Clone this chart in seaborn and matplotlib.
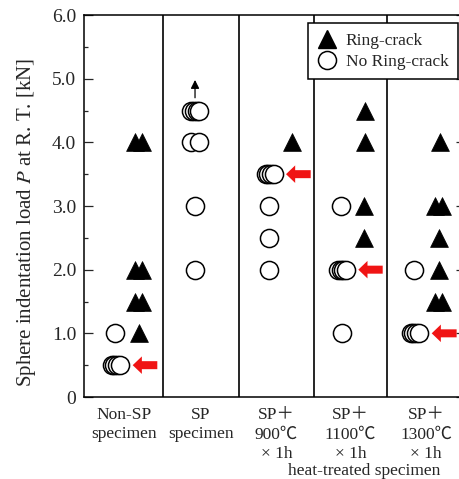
import numpy as np
import pandas as pd
import matplotlib
matplotlib.use("Agg")
import matplotlib.pyplot as plt
from matplotlib.lines import Line2D
from matplotlib.ticker import MultipleLocator
import seaborn as sns

sns.set_style("ticks")
plt.rcParams["font.family"] = ["Liberation Serif", "Noto Sans CJK JP", "DejaVu Serif"]
plt.rcParams["mathtext.fontset"] = "stix"

# ---- data (x = position on the category axis, y = load in kN) ----
group_labels = ["Non-SP\nspecimen", "SP\nspecimen", "SP＋\n900℃\n× 1h",
                "SP＋\n1100℃\n× 1h", "SP＋\n1300℃\n× 1h"]
group_bounds = [0.0, 1.04, 2.03, 3.02, 3.98, 5.0]

crack_x = [0.722, 0.663, 0.764, 0.663, 0.764, 0.663, 0.764,
           2.730,
           3.688, 3.688, 3.680, 3.680,
           4.672, 4.600, 4.698, 4.663, 4.663, 4.600, 4.698]
crack_y = [1.0, 1.5, 1.5, 2.0, 2.0, 4.0, 4.0,
           4.0,
           4.5, 4.0, 3.0, 2.5,
           4.0, 3.0, 3.0, 2.5, 2.0, 1.5, 1.5]

nocrack_x = [0.361, 0.400, 0.433, 0.472, 0.407,
             1.408, 1.444, 1.479, 1.513, 1.408, 1.513, 1.457, 1.457,
             2.385, 2.419, 2.454, 2.490, 2.432, 2.432, 2.432,
             3.373, 3.333, 3.369, 3.403, 3.438, 3.382,
             4.335, 4.287, 4.318, 4.353, 4.400]
nocrack_y = [0.5, 0.5, 0.5, 0.5, 1.0,
             4.5, 4.5, 4.5, 4.5, 4.0, 4.0, 3.0, 2.0,
             3.5, 3.5, 3.5, 3.5, 3.0, 2.5, 2.0,
             3.0, 2.0, 2.0, 2.0, 2.0, 1.0,
             2.0, 1.0, 1.0, 1.0, 1.0]

# red arrows: (tip x, tail x, y)
arrow_tip_x = [0.639, 2.651, 3.600, 4.563]
arrow_tail_x = [0.962, 2.975, 3.920, 4.890]
arrow_y = [0.5, 3.5, 2.0, 1.0]

# small "load increases" arrow above SP specimen
up_x = 1.457
up_y = (4.70, 4.98)

yticks = [0, 1, 2, 3, 4, 5, 6]
yticklabels = ["0", "1.0", "2.0", "3.0", "4.0", "5.0", "6.0"]

df_crack = pd.DataFrame({"x": crack_x, "y": crack_y})
df_nocrack = pd.DataFrame({"x": nocrack_x, "y": nocrack_y}).sort_values("x", kind="stable")

# ---- figure ----
W, H = 459, 479
fig = plt.figure(figsize=(W / 100, H / 100), dpi=100)
ax = fig.add_axes([84 / W, 1 - 397 / H, (465 - 84) / W, (397 - 15) / H])

sns.scatterplot(data=df_nocrack, x="x", y="y", marker="o", s=170,
                color="white", edgecolor="black", linewidth=1.1, ax=ax, zorder=3)
sns.scatterplot(data=df_crack, x="x", y="y", marker="^", s=165,
                color="black", edgecolor="black", linewidth=0.5, ax=ax, zorder=3)

for b in group_bounds[1:-1]:
    ax.axvline(b, color="black", lw=1.2, zorder=2)

for tx, tl, yy in zip(arrow_tip_x, arrow_tail_x, arrow_y):
    ax.annotate("", xy=(tx, yy), xytext=(tl, yy),
                arrowprops=dict(arrowstyle="simple,head_length=0.55,head_width=1.05,tail_width=0.48",
                                color="#f01414", lw=0, shrinkA=0, shrinkB=0,
                                mutation_scale=12), zorder=4)

ax.annotate("", xy=(up_x, up_y[1]), xytext=(up_x, up_y[0]),
            arrowprops=dict(arrowstyle="-|>,head_length=0.5,head_width=0.25",
                            color="black", lw=0.9, shrinkA=0, shrinkB=0,
                            mutation_scale=10), zorder=4)

ax.set_xlim(group_bounds[0], group_bounds[-1])
ax.set_ylim(0, 6)
centers = [(a + b) / 2 for a, b in zip(group_bounds[:-1], group_bounds[1:])]
ax.set_xticks(centers)
ax.set_xticklabels(group_labels, fontsize=12.5, linespacing=1.3, va="top")
ax.set_yticks(yticks)
ax.set_yticklabels(yticklabels, fontsize=14)
ax.yaxis.set_minor_locator(MultipleLocator(0.5))
ax.tick_params(axis="x", which="both", length=0, pad=7)
ax.tick_params(axis="y", which="major", direction="in", left=True, right=True,
               length=6.5, width=0.9, pad=5.5)
ax.tick_params(axis="y", which="minor", direction="in", left=True, right=False,
               length=3.2, width=0.9)
for sp in ax.spines.values():
    sp.set_linewidth(1.1)
    sp.set_color("black")

ax.set_xlabel("")
ax.set_ylabel("Sphere indentation load $P$ at R. T. [kN]", fontsize=15)
ax.yaxis.set_label_coords(-0.121, 0.458)

handles = [Line2D([], [], marker="^", color="black", ls="none", markersize=12.5),
           Line2D([], [], marker="o", markerfacecolor="white", markeredgecolor="black",
                  ls="none", markersize=13, markeredgewidth=1.1)]
leg = ax.legend(handles, ["Ring-crack", "No Ring-crack"], loc="upper right",
                bbox_to_anchor=(458 / W, 1 - 23 / H), bbox_transform=fig.transFigure,
                borderaxespad=0, fontsize=12.5, frameon=True, fancybox=False,
                framealpha=1, edgecolor="black", handlelength=1.2,
                handletextpad=0.45, borderpad=0.55, labelspacing=0.28)
leg.get_frame().set_linewidth(1.1)
leg.set_zorder(5)

fig.text(364 / W, 1 - 475 / H, "heat-treated specimen", fontsize=12.5,
         ha="center", va="baseline")

fig.savefig("out.png", dpi=100)
